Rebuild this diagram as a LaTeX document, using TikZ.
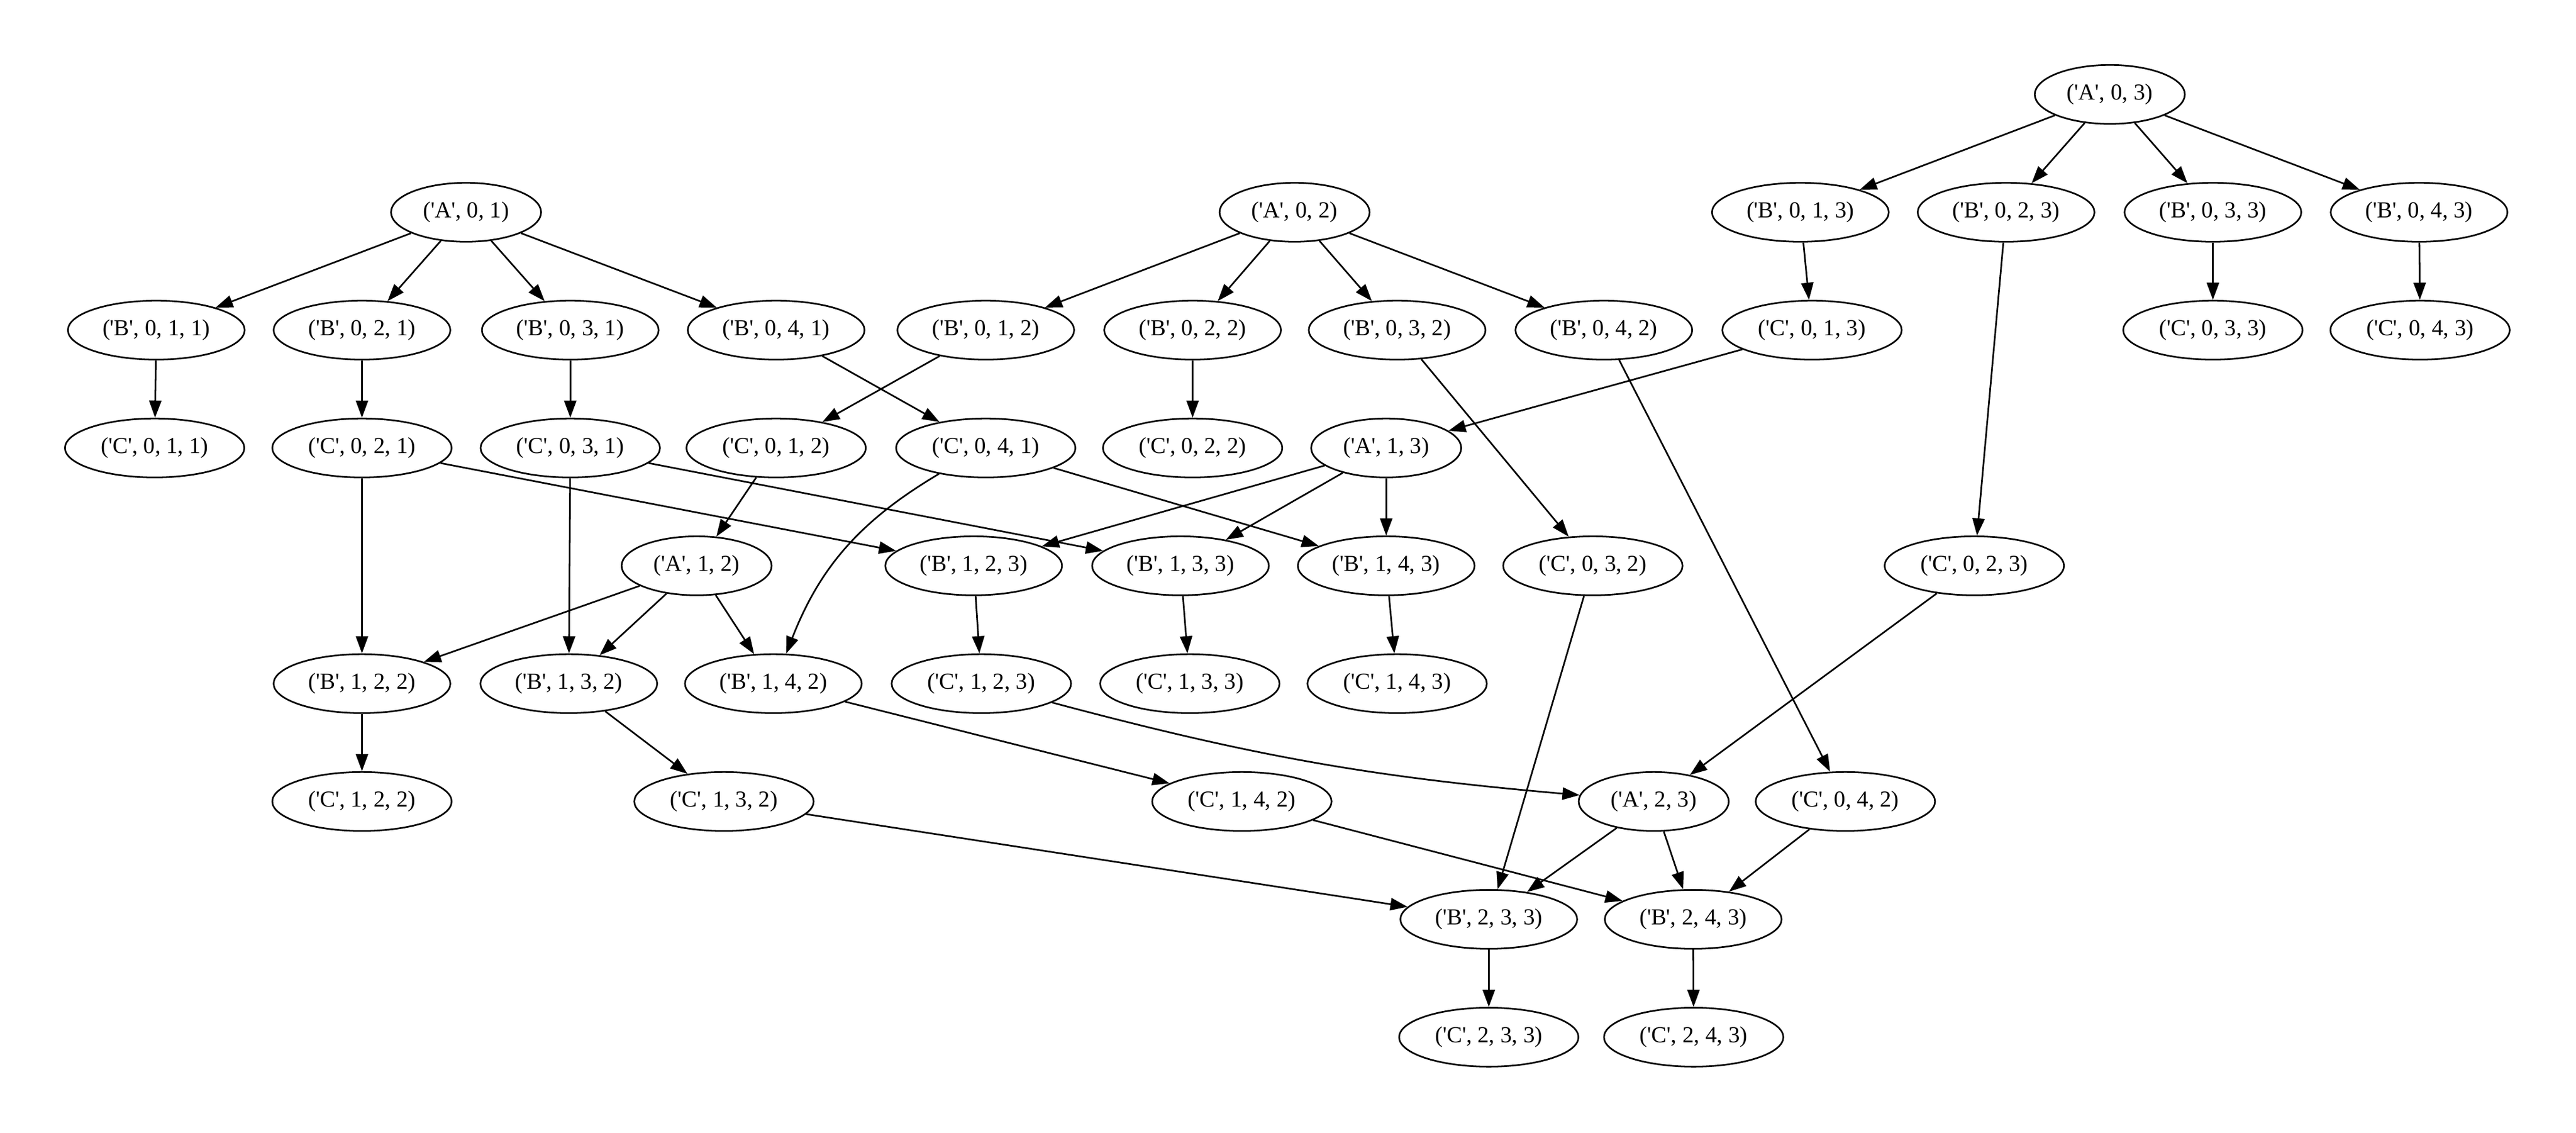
\documentclass[tikz,border=0pt]{standalone}
\usepackage{fontspec}
\setmainfont{Liberation Serif}[Ligatures=TeXOff]
\usepackage{tikz}
\usetikzlibrary{shapes.geometric,arrows.meta}

\begin{document}
\begin{tikzpicture}
  [x=1pt,y=-1pt,%
 term/.style={
  ellipse,
  draw=black,
  line width=1pt, % border
  inner sep=0pt,
  minimum height=36pt,
  font=\fontsize{14}{16}\selectfont},
 aterm/.style={term, minimum width=91.7pt},
 bterm/.style={term, minimum width=108pt},
 cterm/.style={term, minimum width=109.6pt},
 flow/.style={-{Triangle[length=10.5pt,width=7.5pt]}, line width=1pt}]
\useasboundingbox (0,0) rectangle (1574.2,692.2);
% rank 0
\node (a03) [aterm] at (1289.3,57.7) {('A', 0, 3)};
% rank 1
\node (a01) [aterm] at (284.8,129.7) {('A', 0, 1)};
\node (a02) [aterm] at (791.1,129.7) {('A', 0, 2)};
\node (b013) [bterm] at (1100.2,129.7) {('B', 0, 1, 3)};
\node (b023) [bterm] at (1225.9,129.7) {('B', 0, 2, 3)};
\node (b033) [bterm] at (1352.3,129.7) {('B', 0, 3, 3)};
\node (b043) [bterm] at (1478.3,129.7) {('B', 0, 4, 3)};
% rank 2
\node (b011) [bterm] at (95.5,201.7) {('B', 0, 1, 1)};
\node (b021) [bterm] at (221.2,201.7) {('B', 0, 2, 1)};
\node (b031) [bterm] at (348.5,201.7) {('B', 0, 3, 1)};
\node (b041) [bterm] at (474.3,201.7) {('B', 0, 4, 1)};
\node (b012) [bterm] at (602.4,201.7) {('B', 0, 1, 2)};
\node (b022) [bterm] at (728.8,201.7) {('B', 0, 2, 2)};
\node (b032) [bterm] at (853.8,201.7) {('B', 0, 3, 2)};
\node (b042) [bterm] at (980.1,201.7) {('B', 0, 4, 2)};
\node (c013) [cterm] at (1107.3,201.7) {('C', 0, 1, 3)};
\node (c033) [cterm] at (1352.3,201.7) {('C', 0, 3, 3)};
\node (c043) [cterm] at (1478.9,201.7) {('C', 0, 4, 3)};
% rank 3
\node (c011) [cterm] at (94.5,273.7) {('C', 0, 1, 1)};
\node (c021) [cterm] at (221.2,273.7) {('C', 0, 2, 1)};
\node (c031) [cterm] at (348.5,273.7) {('C', 0, 3, 1)};
\node (c012) [cterm] at (474.3,273.7) {('C', 0, 1, 2)};
\node (c041) [cterm] at (602.4,273.7) {('C', 0, 4, 1)};
\node (c022) [cterm] at (728.8,273.7) {('C', 0, 2, 2)};
\node (a13) [aterm] at (847.1,273.7) {('A', 1, 3)};
% rank 4
\node (a12) [aterm] at (425.7,345.7) {('A', 1, 2)};
\node (b123) [bterm] at (595.0,345.7) {('B', 1, 2, 3)};
\node (b133) [bterm] at (721.4,345.7) {('B', 1, 3, 3)};
\node (b143) [bterm] at (847.1,345.7) {('B', 1, 4, 3)};
\node (c032) [cterm] at (973.4,345.7) {('C', 0, 3, 2)};
\node (c023) [cterm] at (1206.5,345.7) {('C', 0, 2, 3)};
% rank 5
\node (b122) [bterm] at (221.2,417.7) {('B', 1, 2, 2)};
\node (b132) [bterm] at (347.6,417.7) {('B', 1, 3, 2)};
\node (b142) [bterm] at (472.6,417.7) {('B', 1, 4, 2)};
\node (c123) [cterm] at (599.7,417.7) {('C', 1, 2, 3)};
\node (c133) [cterm] at (727.1,417.7) {('C', 1, 3, 3)};
\node (c143) [cterm] at (853.8,417.7) {('C', 1, 4, 3)};
% rank 6
\node (c122) [cterm] at (221.2,489.7) {('C', 1, 2, 2)};
\node (c132) [cterm] at (442.4,489.7) {('C', 1, 3, 2)};
\node (c142) [cterm] at (758.9,489.7) {('C', 1, 4, 2)};
\node (a23) [aterm] at (1010.6,489.7) {('A', 2, 3)};
\node (c042) [cterm] at (1127.7,489.7) {('C', 0, 4, 2)};
% rank 7
\node (b233) [bterm] at (909.8,561.7) {('B', 2, 3, 3)};
\node (b243) [bterm] at (1034.7,561.7) {('B', 2, 4, 3)};
% rank 8
\node (c233) [cterm] at (909.8,633.7) {('C', 2, 3, 3)};
\node (c243) [cterm] at (1035.0,633.7) {('C', 2, 4, 3)};
% first stage
\path (a01) edge[flow] (b011) ;
\path (a01) edge[flow] (b021) ;
\path (a01) edge[flow] (b031) ;
\path (a01) edge[flow] (b041) ;
\path (a02) edge[flow] (b012) ;
\path (a02) edge[flow] (b022) ;
\path (a02) edge[flow] (b032) ;
\path (a02) edge[flow] (b042) ;
\path (a03) edge[flow] (b013) ;
\path (a03) edge[flow] (b023) ;
\path (a03) edge[flow] (b033) ;
\path (a03) edge[flow] (b043) ;
\path (b011) edge[flow] (c011) ;
\path (b021) edge[flow] (c021) ;
\path (b031) edge[flow] (c031) ;
\path (b041) edge[flow] (c041) ;
\path (b012) edge[flow] (c012) ;
\path (b022) edge[flow] (c022) ;
\path (b032) edge[flow] (c032) ;
\path (b042) edge[flow] (c042) ;
\path (b013) edge[flow] (c013) ;
\path (b023) edge[flow] (c023) ;
\path (b033) edge[flow] (c033) ;
\path (b043) edge[flow] (c043) ;
% second stage
\path (c012) edge[flow] (a12) ;
\path (c013) edge[flow] (a13) ;
\path (a12) edge[flow] (b122) ;
\path (a12) edge[flow] (b132) ;
\path (a12) edge[flow] (b142) ;
\path (a13) edge[flow] (b123) ;
\path (a13) edge[flow] (b133) ;
\path (a13) edge[flow] (b143) ;
\path (c021) edge[flow] (b122) ;
\path (c021) edge[flow] (b123) ;
\path (c031) edge[flow] (b132) ;
\path (c031) edge[flow] (b133) ;
\path (c041) edge[flow, bend right=19] (b142) ;
\path (c041) edge[flow] (b143) ;
\path (b122) edge[flow] (c122) ;
\path (b132) edge[flow] (c132) ;
\path (b142) edge[flow] (c142) ;
\path (b123) edge[flow] (c123) ;
\path (b133) edge[flow] (c133) ;
\path (b143) edge[flow] (c143) ;
% third stage
\path (c023) edge[flow] (a23) ;
\path (c123) edge[flow, bend right=5] (a23) ;
\path (a23) edge[flow] (b233) ;
\path (a23) edge[flow] (b243) ;
\path (c132) edge[flow] (b233) ;
\path (c032) edge[flow] (b233) ;
\path (c142) edge[flow] (b243) ;
\path (c042) edge[flow] (b243) ;
\path (b233) edge[flow] (c233) ;
\path (b243) edge[flow] (c243) ;
\end{tikzpicture}
\end{document}
